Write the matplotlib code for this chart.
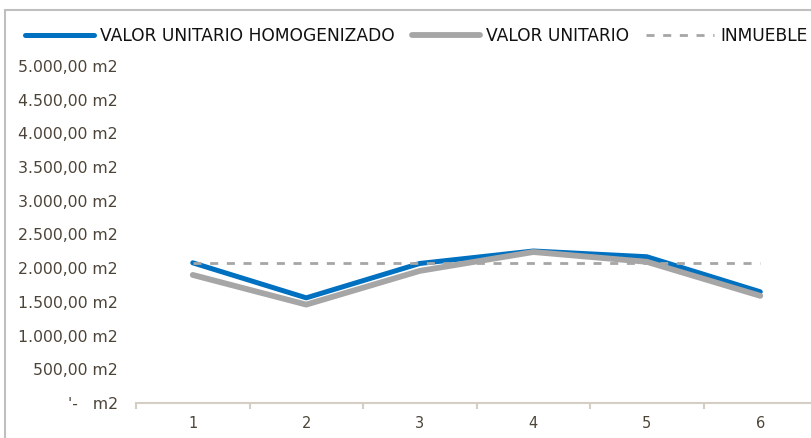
import matplotlib.pyplot as plt
from matplotlib.patches import Rectangle

# datos
categorias = [1, 2, 3, 4, 5, 6]
valor_homogenizado = [2080, 1560, 2070, 2255, 2170, 1650]
valor_unitario = [1900, 1460, 1960, 2240, 2095, 1590]
inmueble = [2080, 2080, 2080, 2080, 2080, 2080]
yticks = [0, 500, 1000, 1500, 2000, 2500, 3000, 3500, 4000, 4500, 5000]


def fmt(v):
    if v == 0:
        return "'-   m2"
    s = f"{v:,.2f}".replace(',', 'X').replace('.', ',').replace('X', '.')
    return s + " m2"


W, H = 811, 438
fig = plt.figure(figsize=(W / 100, H / 100), dpi=100)
fig.patch.set_facecolor('white')

# marco del grafico (recortado a la derecha y abajo)
fig.patches.append(Rectangle((5 / W, -0.1), 1.2, (H - 10) / H + 0.1,
                             transform=fig.transFigure, fill=False,
                             edgecolor='#BFBFBF', linewidth=1.5))

ax = fig.add_axes([136 / W, (H - 403) / H, (817 - 136) / W, (403 - 66) / H])
ax.set_facecolor('none')

l1, = ax.plot(categorias, valor_homogenizado, color='#0070C0', lw=3.6,
              solid_capstyle='round', solid_joinstyle='round',
              label='VALOR UNITARIO HOMOGENIZADO', zorder=3)
l2, = ax.plot(categorias, valor_unitario, color='#A6A6A6', lw=4.2,
              solid_capstyle='round', solid_joinstyle='round',
              label='VALOR UNITARIO', zorder=4)
l3, = ax.plot(categorias, inmueble, color='#A6A6A6', lw=2.0,
              dashes=(2.9, 3.1), label='INMUEBLE', zorder=5)

ax.set_xlim(0.5, 6.5)
ax.set_ylim(0, 5000)

for s in ['top', 'right', 'left']:
    ax.spines[s].set_visible(False)
ax.spines['bottom'].set_color('#D5CEC4')
ax.spines['bottom'].set_linewidth(1.5)
ax.spines['bottom'].set_clip_on(False)

txt = '#4D4439'
ax.set_yticks(yticks)
ax.set_yticklabels([fmt(v) for v in yticks], family='DejaVu Sans',
                   fontsize=11.3, color=txt)
ax.tick_params(axis='y', length=0, pad=13)

ax.set_xticks([0.5, 1.5, 2.5, 3.5, 4.5, 5.5, 6.5])
ax.set_xticklabels([])
ax.tick_params(axis='x', which='major', direction='out', length=4,
               width=1.5, color='#D5CEC4')
ax.set_xticks(categorias, minor=True)
ax.set_xticklabels([str(c) for c in categorias], minor=True,
                   family='DejaVu Sans', fontsize=10.5, color=txt)
ax.tick_params(axis='x', which='minor', length=0, pad=9)

leg = fig.legend(handles=[l1, l2, l3], loc='center left',
                 bbox_to_anchor=(10 / W, (H - 36) / H), ncol=3, frameon=False,
                 handlelength=4.0, handletextpad=0.35, columnspacing=1.0,
                 prop={'family': 'DejaVu Sans', 'size': 12.3})
for t in leg.get_texts():
    t.set_color('#111111')

fig.savefig('out.png', dpi=100)
